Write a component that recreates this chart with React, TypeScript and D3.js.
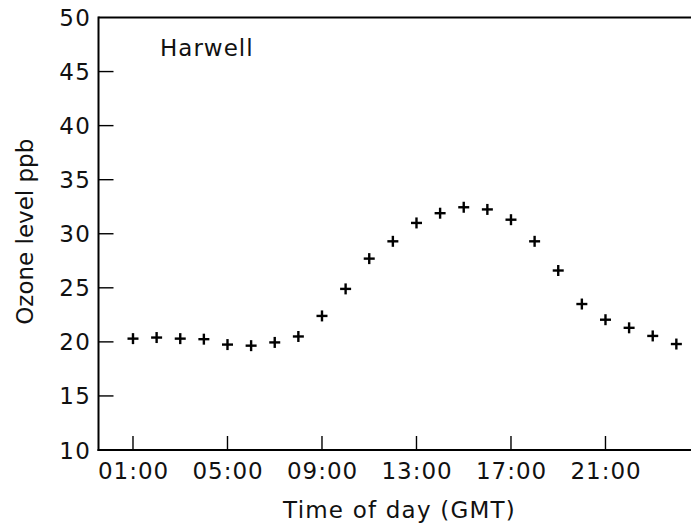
import React from "react";
import * as d3 from "d3";

const hours = [1, 2, 3, 4, 5, 6, 7, 8, 9, 10, 11, 12, 13, 14, 15, 16, 17, 18, 19, 20, 21, 22, 23, 24];
const ozone = [20.3, 20.4, 20.3, 20.25, 19.75, 19.65, 19.95, 20.5, 22.4, 24.9, 27.7, 29.3, 31.0, 31.9, 32.45, 32.25, 31.3, 29.3, 26.6, 23.5, 22.05, 21.3, 20.55, 19.8];
const xTicks = [1, 5, 9, 13, 17, 21];
const xTickLabels = ["01:00", "05:00", "09:00", "13:00", "17:00", "21:00"];
const yTicks = [10, 15, 20, 25, 30, 35, 40, 45, 50];
const siteLabel = "Harwell";
const xTitle = "Time of day (GMT)";
const yTitle = "Ozone level ppb";

const W = 691;
const H = 526;
const left = 98.5;
const right = 691;
const top = 17.5;
const bottom = 450;
const font = "DejaVu Sans, sans-serif";

export default function App() {
  const x = d3.scaleLinear().domain([-0.46, 24.62]).range([left, right]);
  const y = d3.scaleLinear().domain([10, 50]).range([bottom, top]);
  const s = 5.5;
  return (
    <svg width={W} height={H} style={{ position: "absolute", left: 0, top: 0, background: "#fff" }}>
      <rect x={0} y={0} width={W} height={H} fill="#fff" />
      {/* axes */}
      <line x1={left} y1={top} x2={right + 10} y2={top} stroke="#000" strokeWidth={2} />
      <line x1={left} y1={top - 1} x2={left} y2={bottom + 1} stroke="#000" strokeWidth={2} />
      <line x1={left - 1} y1={bottom} x2={right + 10} y2={bottom} stroke="#000" strokeWidth={2} />
      {/* y ticks */}
      {yTicks.map((t) => (
        <g key={"y" + t}>
          {t > 10 && t < 50 && (
            <line x1={left} x2={left + 15} y1={y(t)} y2={y(t)} stroke="#000" strokeWidth={1.4} />
          )}
          <text
            x={left - 7.5}
            y={y(t) + 2}
            textAnchor="end"
            dominantBaseline="middle"
            fontFamily={font}
            fontSize={23}
            letterSpacing={1.2}
            fill="#111"
          >
            {t}
          </text>
        </g>
      ))}
      {/* x ticks */}
      {xTicks.map((t, i) => (
        <g key={"x" + t}>
          <line x1={x(t)} x2={x(t)} y1={bottom} y2={bottom - 14} stroke="#000" strokeWidth={1.4} />
          <text
            x={x(t) + 0.6}
            y={479}
            textAnchor="middle"
            fontFamily={font}
            fontSize={23}
            letterSpacing={1}
            fill="#111"
          >
            {xTickLabels[i]}
          </text>
        </g>
      ))}
      {/* points */}
      {hours.map((h, i) => (
        <g key={"p" + h} stroke="#000" strokeWidth={2.4}>
          <line x1={x(h) - s} x2={x(h) + s} y1={y(ozone[i])} y2={y(ozone[i])} />
          <line x1={x(h)} x2={x(h)} y1={y(ozone[i]) - s} y2={y(ozone[i]) + s} />
        </g>
      ))}
      <text x={160} y={55.5} fontFamily={font} fontSize={23} letterSpacing={1} fill="#111">
        {siteLabel}
      </text>
      <text
        x={399.5}
        y={517.5}
        textAnchor="middle"
        fontFamily={font}
        fontSize={23}
        letterSpacing={1.2}
        fill="#111"
      >
        {xTitle}
      </text>
      <text
        transform={`translate(33,${(top + bottom) / 2 - 2}) rotate(-90)`}
        textAnchor="middle"
        fontFamily={font}
        fontSize={23}
        fill="#111"
      >
        {yTitle}
      </text>
    </svg>
  );
}
